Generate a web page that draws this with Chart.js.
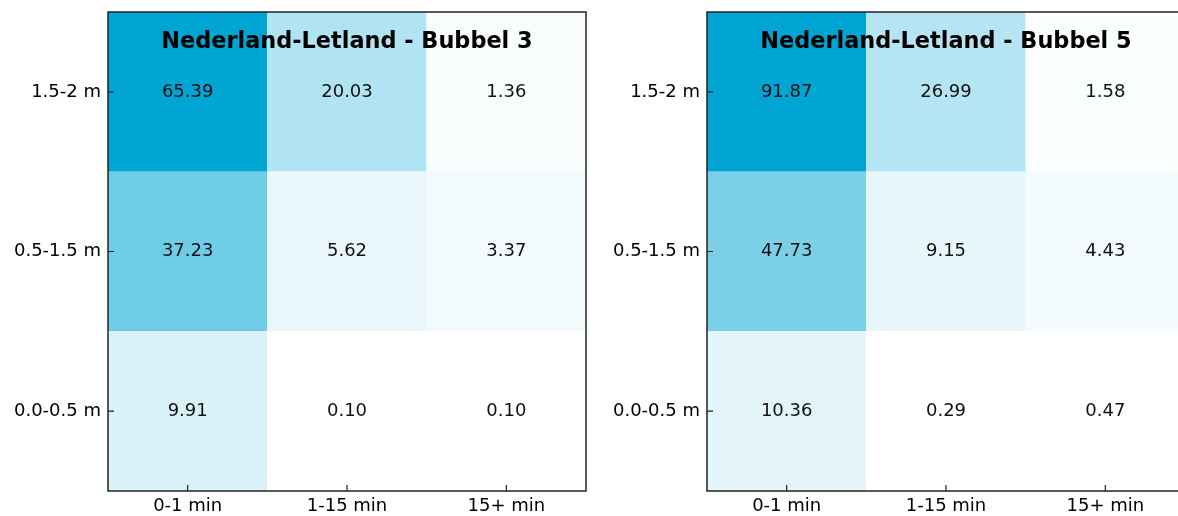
<!DOCTYPE html>
<html>
<head>
<meta charset="utf-8">
<script src="https://cdn.jsdelivr.net/npm/chart.js@4"></script>
<style>
  html, body { margin: 0; padding: 0; background: #fff; overflow: hidden; }
  .paneel { position: absolute; top: 0; width: 600px; height: 516px; }
</style>
</head>
<body>
<div class="paneel" style="left:0"><canvas id="grafiek1"></canvas></div>
<div class="paneel" style="left:600px"><canvas id="grafiek2"></canvas></div>
<script>
// kolommen (tijdsduur) en rijen (golfhoogte, van onder naar boven)
var tijden = ['0-1 min', '1-15 min', '15+ min'];
var hoogtes = ['0.0-0.5 m', '0.5-1.5 m', '1.5-2 m'];

// waarden per rij, zelfde volgorde als hoogtes
var bubbel3 = [
	[9.91, 0.10, 0.10],
	[37.23, 5.62, 3.37],
	[65.39, 20.03, 1.36]
];
var bubbel5 = [
	[10.36, 0.29, 0.47],
	[47.73, 9.15, 4.43],
	[91.87, 26.99, 1.58]
];

var lettertype = '"DejaVu Sans", sans-serif';

// wit -> blauw, geschaald tussen min en max van het paneel
function kleur(v, min, max){
	var t = (v - min) / (max - min);
	var r = Math.round(255 - 255 * t);
	var g = Math.round(255 - 90 * t);
	var b = Math.round(255 - 44 * t);
	return 'rgb(' + r + ',' + g + ',' + b + ')';
}

var heatmapTekst = {
	id: 'heatmapTekst',
	afterDatasetsDraw: function(chart, args, opts){
		var ctx = chart.ctx, ca = chart.chartArea;
		ctx.save();
		ctx.textAlign = 'center';
		ctx.textBaseline = 'middle';

		// getal in elke cel
		ctx.font = '18px ' + lettertype;
		ctx.fillStyle = '#111';
		chart.data.datasets.forEach(function(ds, d){
			chart.getDatasetMeta(d).data.forEach(function(bar, i){
				ctx.fillText(ds.data[i].v.toFixed(2), bar.x, (bar.y + bar.base) / 2);
			});
		});

		// titel binnen het vlak
		ctx.font = 'bold 22.4px ' + lettertype;
		ctx.fillStyle = '#000';
		ctx.fillText(opts.titel, (ca.left + ca.right) / 2, ca.top + 30);

		// kader
		ctx.strokeStyle = '#222';
		ctx.lineWidth = 1.5;
		ctx.strokeRect(ca.left, ca.top, ca.right - ca.left, ca.bottom - ca.top);

		// tickstreepjes naar binnen
		var xs = chart.scales.x, ys = chart.scales.y;
		ctx.lineWidth = 1.2;
		ctx.beginPath();
		xs.ticks.forEach(function(t, i){
			var px = xs.getPixelForTick(i);
			ctx.moveTo(px, ca.bottom);
			ctx.lineTo(px, ca.bottom - 6);
		});
		ys.ticks.forEach(function(t, i){
			var py = ys.getPixelForTick(i);
			ctx.moveTo(ca.left, py);
			ctx.lineTo(ca.left + 6, py);
		});
		ctx.stroke();
		ctx.restore();
	}
};

function maakHeatmap(id, waarden, titel, asBreedte, rechts){
	var alle = [].concat.apply([], waarden);
	var min = Math.min.apply(null, alle);
	var max = Math.max.apply(null, alle);

	var datasets = waarden.map(function(rij, r){
		return {
			data: tijden.map(function(t, i){
				return { x: t, y: [r, r + 1], v: rij[i] };
			}),
			backgroundColor: rij.map(function(v){ return kleur(v, min, max); }),
			borderWidth: 0,
			categoryPercentage: 1,
			barPercentage: 1
		};
	});

	var options = {
		responsive: true,
		maintainAspectRatio: false,
		animation: false,
		events: [],
		layout: { padding: { top: 12, right: rechts, left: 0, bottom: 0 } },
		datasets: { bar: { grouped: false } },
		plugins: {
			legend: { display: false },
			tooltip: { enabled: false },
			heatmapTekst: { titel: titel }
		},
		scales: {
			x: {
				type: 'category',
				labels: tijden,
				grid: { display: false, drawTicks: false },
				border: { display: false },
				ticks: { color: '#000', padding: 5, font: { family: lettertype, size: 18 } },
				afterFit: function(s){
					s.height = 25;
					s.paddingLeft = 0;
					s.paddingRight = 0;
				}
			},
			y: {
				type: 'linear',
				min: 0,
				max: 3,
				grid: { display: false, drawTicks: false },
				border: { display: false },
				ticks: {
					color: '#000',
					padding: 7,
					autoSkip: false,
					font: { family: lettertype, size: 18 },
					callback: function(v){ return hoogtes[Math.floor(v)]; }
				},
				afterBuildTicks: function(s){
					s.ticks = hoogtes.map(function(h, i){ return { value: i + 0.5 }; });
				},
				afterFit: function(s){
					s.width = asBreedte;
					s.paddingTop = 0;
					s.paddingBottom = 0;
				}
			}
		}
	};

	var ctx = document.getElementById(id).getContext('2d');
	new Chart(ctx, { type: 'bar', data: { datasets: datasets }, options: options, plugins: [heatmapTekst] });
}

maakHeatmap('grafiek1', bubbel3, 'Nederland-Letland - Bubbel 3', 108, 14);
maakHeatmap('grafiek2', bubbel5, 'Nederland-Letland - Bubbel 5', 107, 15);
</script>
</body>
</html>
